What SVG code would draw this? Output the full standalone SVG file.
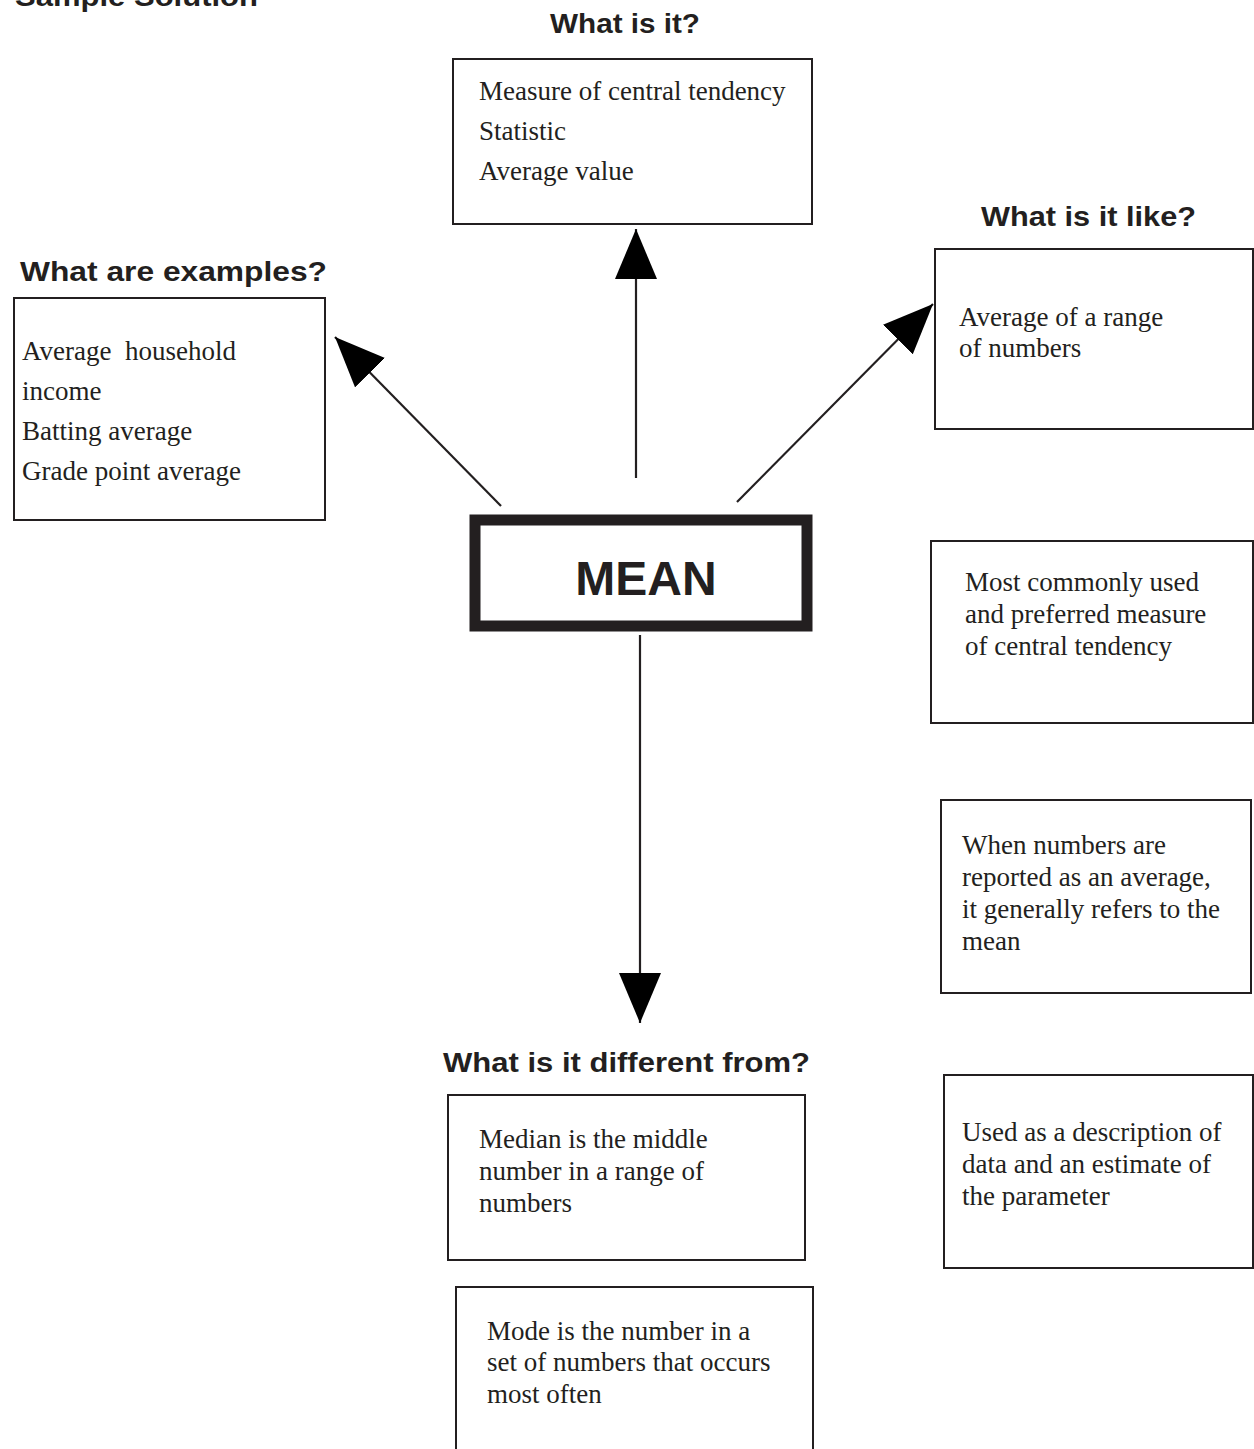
<svg xmlns="http://www.w3.org/2000/svg" width="1254" height="1449" viewBox="0 0 1254 1449">
<style>
.box{fill:#fff;stroke:#231f20;stroke-width:2}
.t{font-family:"Liberation Serif","Times New Roman",serif;font-size:27px;fill:#231f20}
.h{font-family:"Liberation Sans",Arial,sans-serif;font-size:28px;font-weight:bold;fill:#231f20}
.conn{stroke:#231f20;stroke-width:2.2;fill:none;marker-end:url(#ah)}
</style>
<defs>
<marker id="ah" markerUnits="userSpaceOnUse" markerWidth="50" markerHeight="42" refX="50" refY="21" orient="auto" viewBox="0 0 50 42">
<path d="M0,0 L50,21 L0,42 Z" fill="#000"/>
</marker>
</defs>
<rect width="1254" height="1449" fill="#fff"/>
<text class="h" x="15" y="6" textLength="243" lengthAdjust="spacingAndGlyphs">Sample Solution</text>

<g id="connectors">
<line class="conn" x1="636" y1="478" x2="636" y2="229"/>
<line class="conn" x1="501" y1="506" x2="335" y2="337"/>
<line class="conn" x1="737" y1="502" x2="933" y2="304"/>
<line class="conn" x1="640" y1="635" x2="640" y2="1023"/>
</g>

<g id="mean">
<rect x="475" y="520" width="332" height="106" fill="#fff" stroke="#231f20" stroke-width="11"/>
<text x="646" y="595" text-anchor="middle" font-family="'Liberation Sans',Arial,sans-serif" font-size="48" font-weight="bold" fill="#231f20">MEAN</text>
</g>

<g id="what-is-it">
<text class="h" x="550" y="33" textLength="150" lengthAdjust="spacingAndGlyphs">What is it?</text>
<rect class="box" x="453" y="59" width="359" height="165"/>
<text class="t" x="479" y="100">Measure of central tendency</text>
<text class="t" x="479" y="140">Statistic</text>
<text class="t" x="479" y="180">Average value</text>
</g>

<g id="examples">
<text class="h" x="20" y="281" textLength="307" lengthAdjust="spacingAndGlyphs">What are examples?</text>
<rect class="box" x="14" y="298" width="311" height="222"/>
<text class="t" x="22" y="360" xml:space="preserve">Average  household</text>
<text class="t" x="22" y="400">income</text>
<text class="t" x="22" y="440">Batting average</text>
<text class="t" x="22" y="480">Grade point average</text>
</g>

<g id="like-1">
<text class="h" x="981" y="226" textLength="215" lengthAdjust="spacingAndGlyphs">What is it like?</text>
<rect class="box" x="935" y="249" width="318" height="180"/>
<text class="t" x="959" y="326">Average of a range</text>
<text class="t" x="959" y="357">of numbers</text>
</g>

<g id="like-2">
<rect class="box" x="931" y="541" width="322" height="182"/>
<text class="t" x="965" y="591">Most commonly used</text>
<text class="t" x="965" y="623">and preferred measure</text>
<text class="t" x="965" y="655">of central tendency</text>
</g>

<g id="like-3">
<rect class="box" x="941" y="800" width="310" height="193"/>
<text class="t" x="962" y="854">When numbers are</text>
<text class="t" x="962" y="886">reported as an average,</text>
<text class="t" x="962" y="918">it generally refers to the</text>
<text class="t" x="962" y="950">mean</text>
</g>

<g id="like-4">
<rect class="box" x="944" y="1075" width="309" height="193"/>
<text class="t" x="962" y="1141">Used as a description of</text>
<text class="t" x="962" y="1173">data and an estimate of</text>
<text class="t" x="962" y="1205">the parameter</text>
</g>

<g id="different-1">
<text class="h" x="443" y="1072" textLength="367" lengthAdjust="spacingAndGlyphs">What is it different from?</text>
<rect class="box" x="448" y="1095" width="357" height="165"/>
<text class="t" x="479" y="1148">Median is the middle</text>
<text class="t" x="479" y="1180">number in a range of</text>
<text class="t" x="479" y="1212">numbers</text>
</g>

<g id="different-2">
<rect class="box" x="456" y="1287" width="357" height="180"/>
<text class="t" x="487" y="1340">Mode is the number in a</text>
<text class="t" x="487" y="1371">set of numbers that occurs</text>
<text class="t" x="487" y="1403">most often</text>
</g>
</svg>
